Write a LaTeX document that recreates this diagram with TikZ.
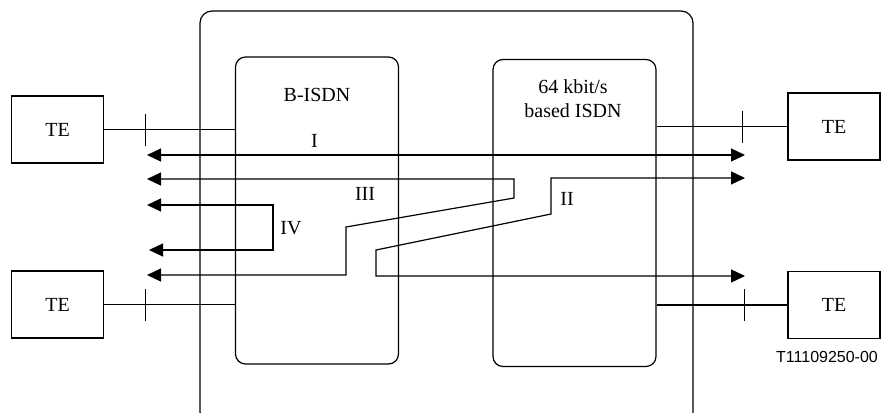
\documentclass[tikz,border=0pt]{standalone}
\usepackage{fontspec}
\setmainfont{Liberation Serif}
\newfontfamily\figfont{Liberation Sans}
\usetikzlibrary{arrows.meta}

\begin{document}
\begin{tikzpicture}[x=0.5pt, y=-0.5pt, line width=0.6pt, >={Triangle[length=7pt,width=6.5pt]},
      te/.style={draw, minimum width=46pt, minimum height=33.5pt, inner sep=0pt},
      net/.style={draw, rounded corners=5pt, minimum width=81.5pt, minimum height=153.5pt, inner sep=0pt},
      tickmark/.style={line width=0.6pt}]
    \clip (0,0) rectangle (882,412);
    % outer domain and the two networks
    \node[draw, rounded corners=6pt, minimum width=246.5pt, minimum height=206.5pt, inner sep=0pt] (dom) at (446.5,217.5) {};
    \node[net] (bis) at (317,210.5) {};
    \node (bislbl) at (317,95) {B-ISDN};
    \node[net] (nis) at (574.5,213) {};
    \node[align=center] (nislbl) at (573,99) {64 kbit/s\\based ISDN};
    % terminals
    \node[te] (teLa) at (57.5,129.5) {TE};
    \node[te] (teLb) at (57.5,304.5) {TE};
    \node[te] (teRa) at (834,126.5) {TE};
    \node[te] (teRb) at (834,305) {TE};
    \draw (teLa.east) -- (teLa.east -| bis.west);
    \draw (teLb.east) -- (teLb.east -| bis.west);
    \draw (teRa.west) -- (teRa.west -| nis.east);
    \draw (teRb.west) -- (teRb.west -| nis.east);
    \draw[tickmark] ([xshift=20.5pt]teLa.east) ++(0,-16) -- ++(0,32);
    \draw[tickmark] ([xshift=20.5pt]teLb.east) ++(0,-16) -- ++(0,32);
    \draw[tickmark] ([xshift=-22.5pt]teRa.west) ++(0,-16) -- ++(0,32);
    \draw[tickmark] ([xshift=-21.5pt]teRb.west) ++(0,-16) -- ++(0,32);
    % connection types
    \coordinate (iL) at (147,155);   \coordinate (iR) at (745,155);
    \coordinate (iiA) at (745,178);  \coordinate (iiB) at (745,276);
    \coordinate (iiiA) at (147,179); \coordinate (iiiB) at (147,275);
    \coordinate (ivA) at (147,205);  \coordinate (ivB) at (149,250);
    \draw[<->] (iL) -- node[pos=0.28, above]{I} (iR);
    \draw[<->] (iiA) -- (551,178) -- (551,214) -- (376,250) -- (376,276) -- (iiB);
    \draw[<->] (iiiA) -- (514,179) -- (514,198) -- (346,227) -- (346,275) -- (iiiB);
    \draw[<->] (ivA) -| (273,250) -- (ivB);
    \node (lblii) at (567,199) {II};
    \node (lbliii) at (365,194) {III};
    \node (lbliv) at (291,228) {IV};
    \node[font=\figfont\footnotesize] (fig) at (827,357) {T11109250-00};
  \end{tikzpicture}
\end{document}
